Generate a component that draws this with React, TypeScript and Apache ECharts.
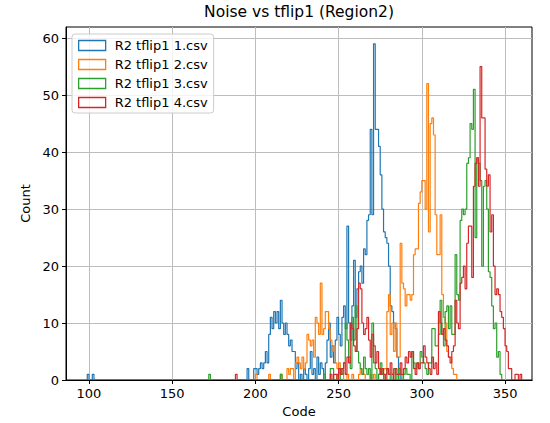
import React, { useEffect, useRef } from 'react';
import * as echarts from 'echarts';

const titleText = 'Noise vs tflip1 (Region2)';
const xName = 'Code';
const yName = 'Count';
const seriesNames = ['R2 tflip1 1.csv', 'R2 tflip1 2.csv', 'R2 tflip1 3.csv', 'R2 tflip1 4.csv'];
const seriesColors = ['#1f77b4', '#ff7f0e', '#2ca02c', '#d62728'];
const xTicks = [100, 150, 200, 250, 300, 350];
const yTicks = [0, 10, 20, 30, 40, 50, 60];

// [code, count] for every non-empty 1-code bin
const blueBins: [number, number][] = [
  [99, 1], [102, 1], [195, 2], [199, 2], [200, 2], [201, 1], [202, 2], [203, 3], [204, 2], [205, 3], [206, 5],
  [207, 3], [208, 8], [209, 11], [210, 9], [211, 12], [212, 10], [213, 12], [214, 9], [215, 14], [216, 10],
  [217, 8], [218, 10], [219, 8], [220, 6], [221, 7], [222, 5], [223, 5], [224, 2], [225, 3], [227, 1], [229, 2],
  [230, 1], [232, 2], [233, 5], [234, 1], [235, 2], [237, 4], [238, 1], [239, 3], [240, 2], [242, 3], [243, 7],
  [244, 10], [245, 4], [246, 6], [247, 3], [248, 7], [249, 11], [250, 8], [251, 6], [252, 11], [253, 13],
  [254, 9], [255, 27], [256, 10], [257, 7], [258, 13], [259, 21], [260, 11], [261, 16], [262, 19], [263, 20],
  [264, 17], [265, 23], [266, 22], [267, 28], [268, 29], [269, 44], [270, 29], [271, 59], [272, 44], [273, 44],
  [274, 41], [275, 36], [276, 30], [277, 26], [278, 25], [279, 24], [280, 20], [281, 13], [282, 12], [283, 10],
  [284, 9], [285, 4], [286, 1],
];
const orangeBins: [number, number][] = [
  [200, 1], [208, 1], [215, 1], [219, 2], [220, 1], [221, 2], [222, 2], [224, 3], [225, 4], [226, 3], [227, 2],
  [228, 4], [229, 2], [230, 3], [231, 8], [232, 7], [233, 6], [234, 7], [235, 4], [236, 11], [237, 10], [238, 8],
  [239, 17], [240, 8], [241, 9], [242, 12], [243, 12], [244, 9], [245, 7], [246, 5], [247, 6], [248, 3],
  [249, 2], [250, 3], [251, 1], [252, 1], [255, 1], [258, 1], [262, 1], [263, 2], [264, 1], [265, 1], [269, 1],
  [271, 1], [274, 1], [275, 2], [276, 1], [277, 2], [278, 2], [279, 12], [280, 15], [281, 8], [282, 10],
  [283, 5], [284, 10], [285, 4], [286, 4], [287, 24], [288, 17], [289, 16], [290, 13], [291, 15], [292, 15],
  [293, 14], [294, 15], [295, 22], [296, 23], [297, 23], [298, 31], [299, 33], [300, 35], [301, 35], [302, 30],
  [303, 52], [304, 26], [305, 45], [306, 46], [307, 43], [308, 29], [309, 22], [310, 22], [311, 29], [312, 15],
  [313, 11], [314, 10], [315, 5], [316, 4], [317, 4], [318, 2], [319, 1], [320, 1],
];
const greenBins: [number, number][] = [
  [172, 1], [215, 1], [241, 1], [245, 2], [246, 2], [249, 1], [251, 2], [252, 1], [253, 3], [254, 10], [255, 7],
  [256, 4], [257, 2], [258, 11], [259, 7], [260, 13], [261, 5], [262, 3], [263, 2], [264, 1], [265, 4], [266, 2],
  [267, 1], [268, 2], [270, 10], [271, 3], [272, 2], [274, 1], [275, 3], [276, 1], [278, 1], [279, 2], [280, 1],
  [282, 1], [283, 2], [284, 1], [286, 2], [287, 1], [289, 1], [290, 2], [291, 1], [292, 1], [294, 5], [295, 3],
  [296, 2], [297, 3], [298, 2], [299, 5], [300, 4], [301, 3], [302, 2], [303, 1], [304, 3], [305, 3], [306, 9],
  [307, 9], [308, 6], [309, 6], [310, 8], [311, 14], [312, 8], [313, 6], [314, 12], [315, 13], [316, 9],
  [317, 13], [318, 8], [319, 8], [320, 22], [321, 15], [322, 14], [323, 28], [324, 30], [325, 29], [326, 30],
  [327, 38], [328, 39], [329, 45], [330, 44], [331, 51], [332, 25], [333, 39], [334, 38], [335, 35], [336, 20],
  [337, 34], [338, 35], [339, 30], [340, 19], [341, 18], [342, 13], [343, 9], [344, 10], [345, 4], [346, 5],
  [347, 1],
];
const redBins: [number, number][] = [
  [188, 1], [245, 1], [247, 1], [248, 1], [250, 2], [251, 1], [252, 2], [253, 3], [254, 1], [255, 4], [256, 3],
  [257, 10], [258, 9], [259, 6], [260, 5], [261, 9], [262, 17], [263, 16], [264, 10], [265, 8], [266, 9],
  [267, 11], [268, 7], [269, 4], [270, 8], [271, 6], [272, 3], [273, 5], [274, 2], [275, 1], [276, 2], [277, 1],
  [279, 2], [280, 1], [281, 3], [282, 1], [284, 2], [285, 1], [286, 1], [287, 3], [288, 1], [289, 2], [290, 4],
  [291, 3], [292, 5], [293, 4], [294, 5], [295, 2], [296, 1], [297, 3], [298, 2], [299, 3], [300, 3], [301, 6],
  [302, 4], [303, 3], [304, 2], [305, 1], [306, 4], [307, 2], [308, 3], [309, 1], [310, 12], [311, 10],
  [312, 8], [313, 9], [314, 7], [315, 6], [316, 4], [317, 3], [318, 5], [319, 6], [320, 14], [321, 10], [322, 9],
  [323, 17], [324, 18], [325, 20], [326, 16], [327, 24], [328, 27], [329, 27], [330, 18], [331, 34], [332, 38],
  [333, 39], [334, 34], [335, 55], [336, 46], [337, 46], [338, 37], [339, 34], [340, 36], [341, 26], [342, 29],
  [343, 20], [344, 15], [345, 16], [346, 15], [347, 12], [348, 11], [349, 9], [350, 6], [351, 5], [352, 2],
  [353, 2], [356, 1], [357, 1], [359, 1],
];
const allBins = [blueBins, orangeBins, greenBins, redBins];

// Outline of a step histogram with 1-code wide bins (edges at integer codes)
function toSteps(bins: [number, number][]): number[][] {
  const sorted = [...bins].sort((a, b) => a[0] - b[0]);
  const lo = sorted[0][0];
  const hi = sorted[sorted.length - 1][0];
  const m = new Map<number, number>(sorted);
  const pts: number[][] = [[lo, 0]];
  for (let c = lo; c <= hi; c++) pts.push([c, m.get(c) ?? 0]);
  pts.push([hi + 1, 0]);
  return pts;
}

const FONT = 'DejaVu Sans';

export default function App() {
  const ref = useRef<HTMLDivElement>(null);
  useEffect(() => {
    if (!ref.current) return;
    const chart = echarts.init(ref.current, undefined, { renderer: 'svg' });
    const labelStyle = { color: '#000', fontSize: 13, fontFamily: FONT };
    chart.setOption({
      animation: false,
      backgroundColor: '#ffffff',
      title: {
        text: titleText,
        left: 299,
        textAlign: 'center',
        top: 0,
        padding: [4, 0, 0, 0],
        textStyle: { color: '#000', fontSize: 15.5, fontWeight: 'normal', fontFamily: FONT },
      },
      grid: {
        left: 66, right: 18, top: 27, bottom: 41,
        show: true, borderColor: '#000', borderWidth: 1, backgroundColor: 'transparent',
      },
      legend: {
        orient: 'vertical',
        left: 72,
        top: 34,
        padding: [5, 6, 4, 6],
        backgroundColor: 'rgba(255,255,255,0.8)',
        borderColor: '#cccccc',
        borderWidth: 1,
        borderRadius: 3,
        itemWidth: 27,
        itemHeight: 10,
        itemGap: 6,
        selectedMode: false,
        textStyle: { ...labelStyle, padding: [0, 0, 0, 4] },
        data: seriesNames.map((n, i) => ({
          name: n,
          icon: 'rect',
          itemStyle: { color: 'rgba(0,0,0,0)', borderColor: seriesColors[i], borderWidth: 1.3 },
        })),
      },
      xAxis: [
        {
          type: 'value',
          min: 86.2,
          max: 366.2,
          name: xName,
          nameLocation: 'middle',
          nameGap: 25,
          nameTextStyle: labelStyle,
          axisLine: { show: true, lineStyle: { color: '#000', width: 1 } },
          axisTick: { show: true, length: 4, lineStyle: { color: '#000' }, customValues: xTicks },
          axisLabel: { ...labelStyle, margin: 7, customValues: xTicks },
          splitLine: { show: true, lineStyle: { color: '#bdbdbd', width: 1 } },
        },
        {
          type: 'value',
          min: 86.2,
          max: 366.2,
          position: 'bottom',
          z: 10,
          axisLine: { show: true, lineStyle: { color: '#000', width: 1 } },
          axisTick: { show: false },
          axisLabel: { show: false },
          splitLine: { show: false },
        },
      ],
      yAxis: {
        type: 'value',
        min: 0,
        max: 61.95,
        name: yName,
        nameLocation: 'middle',
        nameGap: 33,
        nameTextStyle: labelStyle,
        axisLine: { show: true, lineStyle: { color: '#000', width: 1 } },
        axisTick: { show: true, length: 4, lineStyle: { color: '#000' }, customValues: yTicks },
        axisLabel: { ...labelStyle, margin: 7, customValues: yTicks },
        splitLine: { show: true, lineStyle: { color: '#bdbdbd', width: 1 } },
      },
      series: allBins.map((b, i) => ({
        type: 'line',
        name: seriesNames[i],
        data: toSteps(b),
        step: 'end',
        symbol: 'none',
        showSymbol: false,
        silent: true,
        xAxisIndex: 0,
        yAxisIndex: 0,
        lineStyle: { color: seriesColors[i], width: 1.2 },
        itemStyle: { color: seriesColors[i] },
      })),
    });
    return () => chart.dispose();
  }, []);
  return (
    <div
      ref={ref}
      style={{ position: 'fixed', left: 0, top: 0, width: 550, height: 423, background: '#fff' }}
    />
  );
}
